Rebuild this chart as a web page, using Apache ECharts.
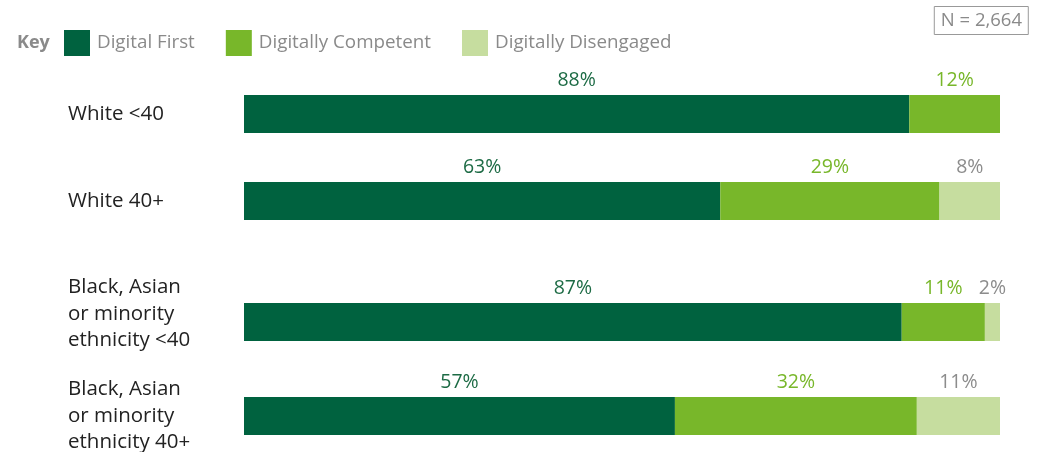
<!DOCTYPE html>
<html>
<head>
<meta charset="utf-8">
<script src="https://cdn.jsdelivr.net/npm/echarts@6/dist/echarts.min.js"></script>
<style>
  html, body { margin: 0; padding: 0; background: #fff; }
  #chart { width: 1047px; height: 452px; }
</style>
</head>
<body>
<div id="chart"></div>
<script>
const categories = [
  "White <40",
  "White 40+",
  "Black, Asian\nor minority\nethnicity <40",
  "Black, Asian\nor minority\nethnicity 40+"
];
const segmentNames = ["Digital First", "Digitally Competent", "Digitally Disengaged"];
const digitalFirst = [88, 63, 87, 57];
const digitallyCompetent = [12, 29, 11, 32];
const digitallyDisengaged = [0, 8, 2, 11];

const FONT = "Open Sans";
const colors = ["#00623f", "#78b72a", "#c6dd9f"];
const labelColors = ["#1d6b45", "#78b72a", "#8c8c8c"];
const gridTops = [95, 182, 303, 397];
// extra blank space under a row label, to lift it a little
const labelLift = [0, 0, 16, 0];
const values = [digitalFirst, digitallyCompetent, digitallyDisengaged];

const grid = [], xAxis = [], yAxis = [], series = [];
categories.forEach((cat, i) => {
  grid.push({ left: 244, right: 47, top: gridTops[i], height: 38, outerBoundsMode: "none" });
  xAxis.push({ gridIndex: i, type: "value", min: 0, max: 100, show: false });
  yAxis.push({
    gridIndex: i, type: "category", data: [cat],
    axisLine: { show: false }, axisTick: { show: false },
    axisLabel: {
      align: "left", margin: 176, color: "#222",
      fontFamily: FONT, fontSize: 20.5, lineHeight: 26.5,
      formatter: v => labelLift[i] ? v + "\n{g| }" : v,
      rich: { g: { lineHeight: labelLift[i] || 1, fontSize: 1 } }
    }
  });
  segmentNames.forEach((name, s) => {
    series.push({
      name, type: "bar", stack: "g" + i,
      xAxisIndex: i, yAxisIndex: i,
      barWidth: 38,
      itemStyle: { color: colors[s] },
      label: {
        show: true, position: "top", distance: 5,
        color: labelColors[s], fontFamily: FONT, fontSize: 19.5,
        formatter: p => p.value ? p.value + "%" : ""
      },
      data: [values[s][i]]
    });
  });
});

const chart = echarts.init(document.getElementById("chart"));
chart.setOption({
  animation: false,
  title: [
    { text: "Key", left: 12, top: 29,
      textStyle: { color: "#8a8a8a", fontFamily: FONT, fontSize: 18, fontWeight: "bold" } },
    { text: "N = 2,664", right: 18, top: 6, padding: [5, 7],
      borderColor: "#999", borderWidth: 1,
      textStyle: { color: "#8a8a8a", fontFamily: FONT, fontSize: 18.5, fontWeight: "normal" } }
  ],
  legend: {
    left: 59, top: 25, icon: "rect", itemWidth: 26, itemHeight: 26, itemGap: 31,
    data: segmentNames,
    textStyle: { color: "#8a8a8a", fontFamily: FONT, fontSize: 18.8, padding: [0, 0, 0, 2] }
  },
  grid, xAxis, yAxis, series
});
</script>
</body>
</html>
